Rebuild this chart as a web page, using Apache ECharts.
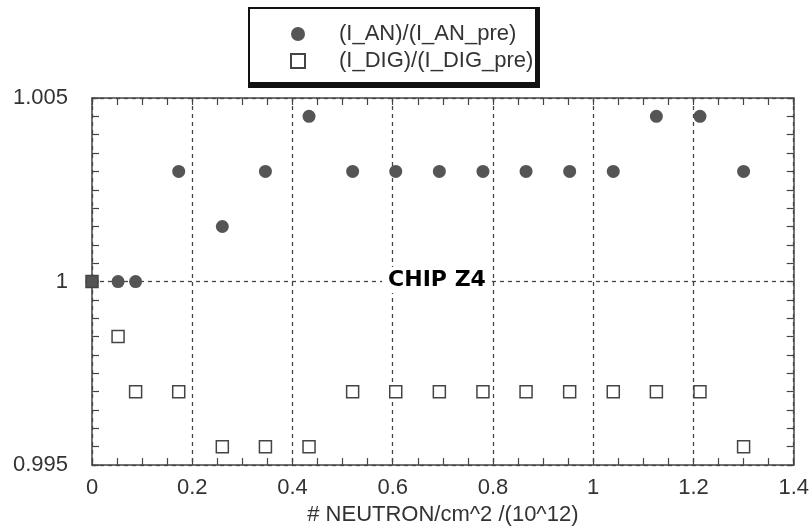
<!DOCTYPE html>
<html>
<head>
<meta charset="utf-8">
<script src="https://cdn.jsdelivr.net/npm/echarts@6/dist/echarts.min.js"></script>
<style>
  html, body { margin: 0; padding: 0; background: #fff; }
  #chart { width: 812px; height: 531px; }
</style>
</head>
<body>
<div id="chart"></div>
<script>
// neutron fluence (x 10^12 n/cm^2)
const fluence = [0, 0.052, 0.087, 0.173, 0.26, 0.346, 0.433, 0.52, 0.606, 0.693, 0.78, 0.866, 0.953, 1.04, 1.126, 1.213, 1.3];
// current ratios
const anRatio  = [1, 1, 1, 1.003, 1.0015, 1.003, 1.0045, 1.003, 1.003, 1.003, 1.003, 1.003, 1.003, 1.003, 1.0045, 1.0045, 1.003];
const digRatio = [1, 0.9985, 0.997, 0.997, 0.9955, 0.9955, 0.9955, 0.997, 0.997, 0.997, 0.997, 0.997, 0.997, 0.997, 0.997, 0.997, 0.9955];
const seriesNames = ['(I_AN)/(I_AN_pre)', '(I_DIG)/(I_DIG_pre)'];

const ink = '#444';
const font = 'Liberation Sans, Arial, sans-serif';

const anData = fluence.map((x, i) => [x, anRatio[i]]);
const digData = fluence.map((x, i) => {
    // the point at the origin sits on top of the analog one and shows filled
    if (i === 0) return { value: [x, digRatio[i]], itemStyle: { color: '#555' } };
    return [x, digRatio[i]];
});

const baseAxis = {
    type: 'value',
    axisLine: { show: true, onZero: false, lineStyle: { color: ink, width: 1.5 } },
    axisTick: { show: true, inside: true, length: 7, lineStyle: { color: ink, width: 1.2 } },
    minorTick: { show: true, length: 7, lineStyle: { color: ink, width: 1.2 } },
    axisLabel: { color: '#333', fontFamily: font, fontSize: 22 }
};
const dashed = { show: true, lineStyle: { color: ink, width: 1.3, type: [4, 4] } };

const chart = echarts.init(document.getElementById('chart'));
chart.setOption({
    animation: false,
    backgroundColor: '#fff',
    grid: { left: 92, right: 15, top: 98, bottom: 65 },
    graphic: [
        // legend box with heavy lower/right edge
        { type: 'rect', z: -1, shape: { x: 248, y: 7, width: 292, height: 81 }, style: { fill: '#111' } },
        { type: 'rect', z: -1, shape: { x: 250, y: 9, width: 285, height: 73 }, style: { fill: '#fff' } },
        {
            type: 'text', x: 437, y: 280, z: 10,
            style: {
                text: 'CHIP Z4', fill: '#000', font: 'bold 22px "DejaVu Sans", sans-serif',
                align: 'center', verticalAlign: 'middle',
                backgroundColor: '#fff', padding: [2, 6]
            }
        }
    ],
    legend: {
        data: seriesNames,
        orient: 'vertical',
        left: 290,
        top: 21,
        padding: 0,
        itemGap: 1,
        itemWidth: 14,
        itemHeight: 14,
        textStyle: { color: '#333', fontFamily: font, fontSize: 22, lineHeight: 22, padding: [4, 0, 0, 29] }
    },
    xAxis: [
        Object.assign({}, baseAxis, {
            position: 'bottom', min: 0, max: 1.4, interval: 0.2,
            minorTick: Object.assign({}, baseAxis.minorTick, { splitNumber: 4 }),
            axisLabel: Object.assign({}, baseAxis.axisLabel, { margin: 12 }),
            splitLine: dashed,
            name: '# NEUTRON/cm^2 /(10^12)',
            nameLocation: 'middle', nameGap: 36,
            nameTextStyle: { color: '#333', fontFamily: font, fontSize: 22 }
        }),
        Object.assign({}, baseAxis, {
            position: 'top', min: 0, max: 1.4, interval: 0.2,
            minorTick: Object.assign({}, baseAxis.minorTick, { splitNumber: 4 }),
            axisLabel: { show: false }, splitLine: { show: false }
        })
    ],
    yAxis: [
        Object.assign({}, baseAxis, {
            position: 'left', min: 0.995, max: 1.005, interval: 0.005,
            minorTick: Object.assign({}, baseAxis.minorTick, { splitNumber: 10 }),
            axisLabel: Object.assign({}, baseAxis.axisLabel, {
                margin: 24,
                formatter: v => String(+v.toFixed(3))
            }),
            splitLine: dashed
        }),
        Object.assign({}, baseAxis, {
            position: 'right', min: 0.995, max: 1.005, interval: 0.005,
            minorTick: Object.assign({}, baseAxis.minorTick, { splitNumber: 10 }),
            axisLabel: { show: false }, splitLine: { show: false }
        })
    ],
    series: [
        {
            name: seriesNames[0], type: 'scatter', data: anData,
            symbol: 'circle', symbolSize: 13, clip: false,
            itemStyle: { color: '#555', opacity: 1 }
        },
        {
            name: seriesNames[1], type: 'scatter', data: digData,
            symbol: 'rect', symbolSize: 12, clip: false,
            itemStyle: { color: '#fff', borderColor: ink, borderWidth: 1.5, opacity: 1 }
        }
    ]
});
</script>
</body>
</html>
